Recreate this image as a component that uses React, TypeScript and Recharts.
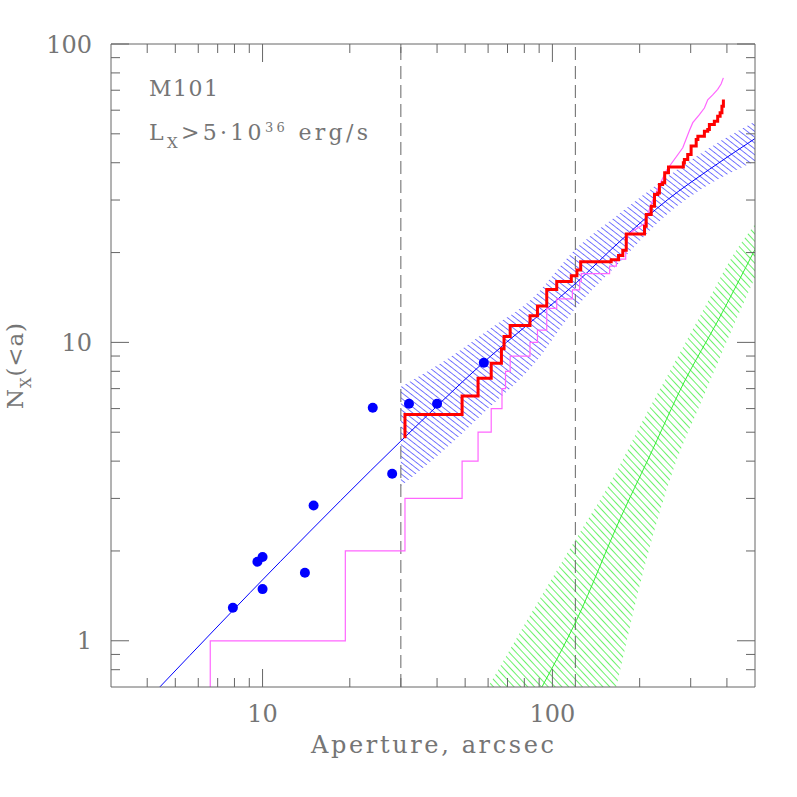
import React from "react";
import {
  ComposedChart, XAxis, YAxis, Area, Line, Scatter, ReferenceLine,
} from "recharts";

// ── data (aperture in arcsec, cumulative N) ─────────────────────────────────
// X-ray sources: blue dots
const SRC_A = [7.9, 9.6, 10, 10, 14, 15, 24, 28, 32, 40, 58];
const SRC_N = [1.29, 1.84, 1.91, 1.49, 1.69, 2.84, 6.04, 3.63, 6.23, 6.23, 8.55];

// blue model curve and its hatched band
const MODEL_A = [4.42, 11.5, 30, 57.7, 121, 170, 250, 348, 500];
const MODEL_N = [0.7, 1.84, 4.67, 8.55, 15.85, 21.7, 30.1, 38.0, 48.2];
const BAND_A  = [30, 45, 60, 85, 120, 170, 250, 350, 500];
const BAND_LO = [3.3, 4.6, 6.0, 8.3, 13.0, 18.5, 27, 34, 40.5];
const BAND_HI = [7.1, 9.0, 11.0, 14.0, 20.5, 27, 36, 45, 55];

// green (background) curve and its hatched band
const BKG_A  = [92, 121, 173, 214, 286, 372, 500];
const BKG_N  = [0.7, 1.17, 2.62, 4.06, 7.42, 11.8, 20.5];
const BKGB_A  = [60, 92, 120, 166, 200, 260, 330, 420, 500];
const BKGB_LO = [0.1, 0.15, 0.21, 0.7, 1.53, 3.69, 6.48, 11.27, 16.5];
const BKGB_HI = [0.7, 1.42, 2.18, 3.68, 5.23, 8.33, 12.75, 19.6, 24.9];

// red: corrected cumulative counts (step)
const RED_A = [31.0, 31.0, 48.8, 55.4, 61.5, 66.7, 68.1, 71.5, 83.7, 88.8, 95.6, 103.5,
  116.2, 121.5, 125.2, 159.5, 169.1, 174.9, 179.8, 207.9, 210.7, 219.2, 225, 231, 234,
  240, 244, 251.5, 283, 285.3, 293, 301, 313.4, 317.6, 334.5, 343.5, 348, 362, 371.7,
  379, 384.5, 389];
const RED_N = [4.77, 5.73, 6.61, 7.58, 8.52, 9.53, 10.47, 11.4, 12.29, 13.23, 15.05, 16.0,
  16.73, 17.47, 18.63, 18.93, 19.56, 20.38, 23.1, 24.5, 26.85, 28.6, 31.3, 31.7, 33.8,
  34.3, 37.0, 38.7, 40.0, 41.0, 42.6, 45.5, 47.9, 49.1, 51.0, 51.7, 53.7, 55.1, 57.3,
  58.8, 61.9, 65.2];

// magenta: raw cumulative counts (step, then dense upper part)
const RAW_A = [6.6, 6.6, 19.3, 31.0, 48.8, 55.4, 61.5, 67.0, 68.9, 71.5, 83.7, 88.8, 95.6,
  103.5, 117.2, 124.2, 125.8, 157.5, 166.2, 179];
const RAW_N = [0.7, 1, 2, 3, 4, 5, 6, 7, 8, 9, 10, 11, 13, 14, 15, 16, 17, 18, 19, 20];
const RAW_TOP_A = [179, 182, 207.9, 213.4, 222, 237.3, 247, 281.7, 297, 305, 321.5, 334.5,
  343.5, 357.3, 371.7, 381.9, 388.9];
const RAW_TOP_N = [20, 23, 25, 27, 30, 34.6, 37.6, 44.9, 51.3, 54.5, 58, 61, 65, 67.5,
  70.5, 73.4, 77];

const X_TICKS = [4, 5, 6, 7, 8, 9, 10, 20, 30, 40, 50, 60, 70, 80, 90, 100, 200, 300, 400];
const X_LABELS = [10, 100];
const Y_TICKS = [0.8, 0.9, 1, 2, 3, 4, 5, 6, 7, 8, 9, 10, 20, 30, 40, 50, 60, 70, 80, 90, 100];
const Y_LABELS = [1, 10, 100];
const APERTURE_CUTS = [30, 120];

// ── layout ──────────────────────────────────────────────────────────────────
const W = 797, H = 797;
const P_LEFT = 111, P_RIGHT = 755, P_TOP = 44, P_BOTTOM = 687;
const MAJOR = 18, MINOR = 9;
const AXIS = "#666";
const FONT = "'DejaVu Serif', serif";
const TXT = "#757575";

const zip = (a: number[], n: number[]) => a.map((x, i) => ({ x, y: n[i] }));
const zipBand = (a: number[], lo: number[], hi: number[]) =>
  a.map((x, i) => ({ x, band: [lo[i], hi[i]] }));

const srcData = zip(SRC_A, SRC_N);
const modelData = zip(MODEL_A, MODEL_N);
const bandData = zipBand(BAND_A, BAND_LO, BAND_HI);
const bkgData = zip(BKG_A, BKG_N);
const bkgBandData = zipBand(BKGB_A, BKGB_LO, BKGB_HI);
const redData = zip(RED_A, RED_N);
const rawData = zip(RAW_A, RAW_N);
const rawTopData = zip(RAW_TOP_A, RAW_TOP_N);

const isMajor = (v: number) => Math.abs(Math.log10(v) - Math.round(Math.log10(v))) < 1e-6;

function BottomTick(props: any) {
  const { x, payload } = props;
  const v = payload.value;
  const len = isMajor(v) ? MAJOR : MINOR;
  return (
    <g>
      <line x1={x} x2={x} y1={P_BOTTOM} y2={P_BOTTOM - len} stroke={AXIS} />
      {X_LABELS.includes(v) && (
        <text x={x} y={722} textAnchor="middle" fontFamily={FONT} fontSize={24} fill={TXT}>{v}</text>
      )}
    </g>
  );
}

function TopTick(props: any) {
  const { x, payload } = props;
  const len = isMajor(payload.value) ? MAJOR : MINOR;
  return <line x1={x} x2={x} y1={P_TOP} y2={P_TOP + len} stroke={AXIS} />;
}

function LeftTick(props: any) {
  const { y, payload } = props;
  const v = payload.value;
  const len = isMajor(v) ? MAJOR : MINOR;
  return (
    <g>
      <line x1={P_LEFT} x2={P_LEFT + len} y1={y} y2={y} stroke={AXIS} />
      {Y_LABELS.includes(v) && (
        <text x={92} y={y + 8.5} textAnchor="end" fontFamily={FONT} fontSize={24} fill={TXT}>{v}</text>
      )}
    </g>
  );
}

function RightTick(props: any) {
  const { y, payload } = props;
  const len = isMajor(payload.value) ? MAJOR : MINOR;
  return <line x1={P_RIGHT} x2={P_RIGHT - len} y1={y} y2={y} stroke={AXIS} />;
}

const xAxisCommon = {
  type: "number" as const, scale: "log" as const, domain: [3, 500], allowDataOverflow: true,
  dataKey: "x", ticks: X_TICKS, interval: 0, tickLine: false,
  axisLine: { stroke: AXIS },
};
const yAxisCommon = {
  type: "number" as const, scale: "log" as const, domain: [0.7, 100], allowDataOverflow: true,
  dataKey: "y", ticks: Y_TICKS, interval: 0, tickLine: false,
  axisLine: { stroke: AXIS },
};

export default function App() {
  return (
    <div style={{ position: "absolute", left: 0, top: 0, width: W, height: H, background: "#fff" }}>
      <ComposedChart width={W} height={H}
                     margin={{ top: P_TOP - 1, right: W - P_RIGHT - 1, bottom: 0, left: 0 }}>
        <defs>
          <pattern id="hatchBlue" patternUnits="userSpaceOnUse" width="10" height="4.6"
                   patternTransform="rotate(38)">
            <line x1="0" y1="2.3" x2="10" y2="2.3" stroke="#4545ff" strokeWidth="0.75" />
          </pattern>
          <pattern id="hatchGreen" patternUnits="userSpaceOnUse" width="10" height="5"
                   patternTransform="rotate(47)">
            <line x1="0" y1="2.5" x2="10" y2="2.5" stroke="#3aee3a" strokeWidth="0.75" />
          </pattern>
        </defs>

        <XAxis {...xAxisCommon} height={H - P_BOTTOM} tick={BottomTick} />
        <XAxis {...xAxisCommon} xAxisId="top" orientation="top" height={1} tick={TopTick} />
        <YAxis {...yAxisCommon} width={P_LEFT} tick={LeftTick} />
        <YAxis {...yAxisCommon} yAxisId="right" orientation="right" width={1} tick={RightTick} />

        <Area data={bandData} dataKey="band" type="monotone" stroke="none"
              fill="url(#hatchBlue)" fillOpacity={1} isAnimationActive={false} />
        <Area data={bkgBandData} dataKey="band" type="monotone" stroke="none"
              fill="url(#hatchGreen)" fillOpacity={1} isAnimationActive={false} />

        {APERTURE_CUTS.map(a => (
          <ReferenceLine key={a} x={a} stroke="#666" strokeDasharray="13 6" />
        ))}

        <Line data={bkgData} dataKey="y" type="monotone" stroke="#33ee33" strokeWidth={1}
              dot={false} isAnimationActive={false} />
        <Line data={modelData} dataKey="y" type="monotone" stroke="#0000ff" strokeWidth={1}
              dot={false} isAnimationActive={false} />
        <Line data={rawData} dataKey="y" type="stepAfter" stroke="#ff66ff" strokeWidth={1.2}
              dot={false} isAnimationActive={false} />
        <Line data={rawTopData} dataKey="y" type="linear" stroke="#ff66ff" strokeWidth={1.2}
              dot={false} isAnimationActive={false} />
        <Line data={redData} dataKey="y" type="stepAfter" stroke="#ff0000" strokeWidth={3}
              dot={false} isAnimationActive={false} />
        <Scatter data={srcData} fill="#0000ff" isAnimationActive={false}
                 shape={(p: any) => <circle cx={p.cx} cy={p.cy} r={5} fill="#0000ff" />} />
      </ComposedChart>

      <svg width={W} height={H} style={{ position: "absolute", left: 0, top: 0, pointerEvents: "none" }}>
        <g fontFamily={FONT} fill={TXT}>
          <text x={149} y={96} fontSize={22} textLength={69} lengthAdjust="spacing">M101</text>
          <text x={149} y={140} fontSize={22} textLength={219} lengthAdjust="spacing">
            L<tspan fontSize={15} dy={8}>X</tspan>
            <tspan dy={-8}>{">5·10"}</tspan>
            <tspan fontSize={13} dy={-8}>36</tspan>
            <tspan dy={8}>{" erg/s"}</tspan>
          </text>

          <text x={432.5} y={753} fontSize={24} textAnchor="middle" textLength={243}
                lengthAdjust="spacing">Aperture, arcsec</text>

          <text transform="translate(23,409) rotate(-90)" fontSize={23} textLength={86}
                lengthAdjust="spacing">
            N<tspan fontSize={15} dy={8}>X</tspan>
            <tspan dy={-8}>{"(<a)"}</tspan>
          </text>
        </g>
      </svg>
    </div>
  );
}
